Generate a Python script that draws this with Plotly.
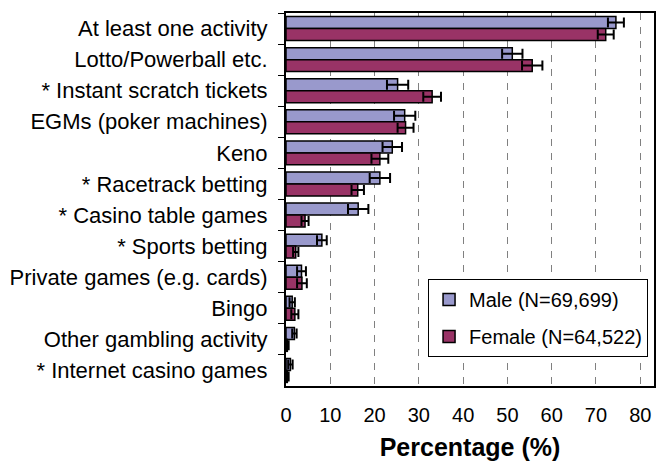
import plotly.graph_objects as go

categories = ["At least one activity", "Lotto/Powerball etc.", "* Instant scratch tickets",
              "EGMs (poker machines)", "Keno", "* Racetrack betting", "* Casino table games",
              "* Sports betting", "Private games (e.g. cards)", "Bingo",
              "Other gambling activity", "* Internet casino games"]
male = [74.5, 51.1, 25.2, 26.8, 24.0, 21.2, 16.3, 8.1, 3.5, 1.4, 1.9, 1.0]
male_err = [1.8, 2.3, 2.4, 2.4, 2.2, 2.3, 2.3, 1.1, 1.0, 0.6, 0.5, 0.5]
female = [72.2, 55.6, 33.0, 27.0, 21.2, 16.2, 4.3, 2.2, 3.6, 2.0, 0.3, 0.3]
female_err = [1.8, 2.3, 2.0, 1.8, 1.9, 1.4, 0.8, 0.6, 1.1, 0.8, 0.3, 0.3]
series_names = ["Male (N=69,699)", "Female (N=64,522)"]
x_ticks = [0, 10, 20, 30, 40, 50, 60, 70, 80]

FONT = "Liberation Sans, Arial, sans-serif"

fig = go.Figure()
for name, vals, errs, color, grp in [
    (series_names[0], male, male_err, "#9999CC", "m"),
    (series_names[1], female, female_err, "#993366", "f"),
]:
    fig.add_trace(go.Bar(
        y=categories, x=vals, orientation="h", name=name,
        legendgroup=grp,
        marker=dict(color=color, line=dict(color="black", width=1.5)),
        error_x=dict(type="data", array=errs, visible=True, color="black",
                     thickness=2, width=5),
    ))

fig.update_layout(
    width=664, height=461,
    margin=dict(l=286, r=10, t=13, b=75, autoexpand=False),
    paper_bgcolor="white", plot_bgcolor="white",
    barmode="group", bargap=0.23, bargroupgap=0,
    font=dict(family=FONT, size=22, color="black"),
    legend=dict(x=0.386, y=0.287, xanchor="left", yanchor="top",
                bgcolor="white", bordercolor="black", borderwidth=1,
                font=dict(size=20), traceorder="grouped", tracegroupgap=8,
                itemwidth=30),
    showlegend=True,
)
fig.update_xaxes(
    range=[0, 83.1], tickvals=x_ticks, ticks="", automargin=False,
    showgrid=True, gridcolor="#808080", gridwidth=1, griddash="7px,7px",
    showline=True, linecolor="black", linewidth=2, mirror=True,
    zeroline=False,
    tickfont=dict(size=20), ticklabelstandoff=10,
    title=dict(text="<b>Percentage (%)</b>", font=dict(size=25), standoff=16),
)
fig.update_yaxes(
    autorange="reversed", type="category", automargin=False,
    ticks="outside", ticklen=6, tickcolor="black", tickwidth=1, tickson="boundaries",
    showline=True, linecolor="black", linewidth=2, mirror=True,
    showgrid=False, tickfont=dict(size=22), ticklabelstandoff=12,
)

fig.write_html("out.html", config={"displayModeBar": False},
               post_script="document.body.style.margin='0px';document.body.style.padding='0px';")
